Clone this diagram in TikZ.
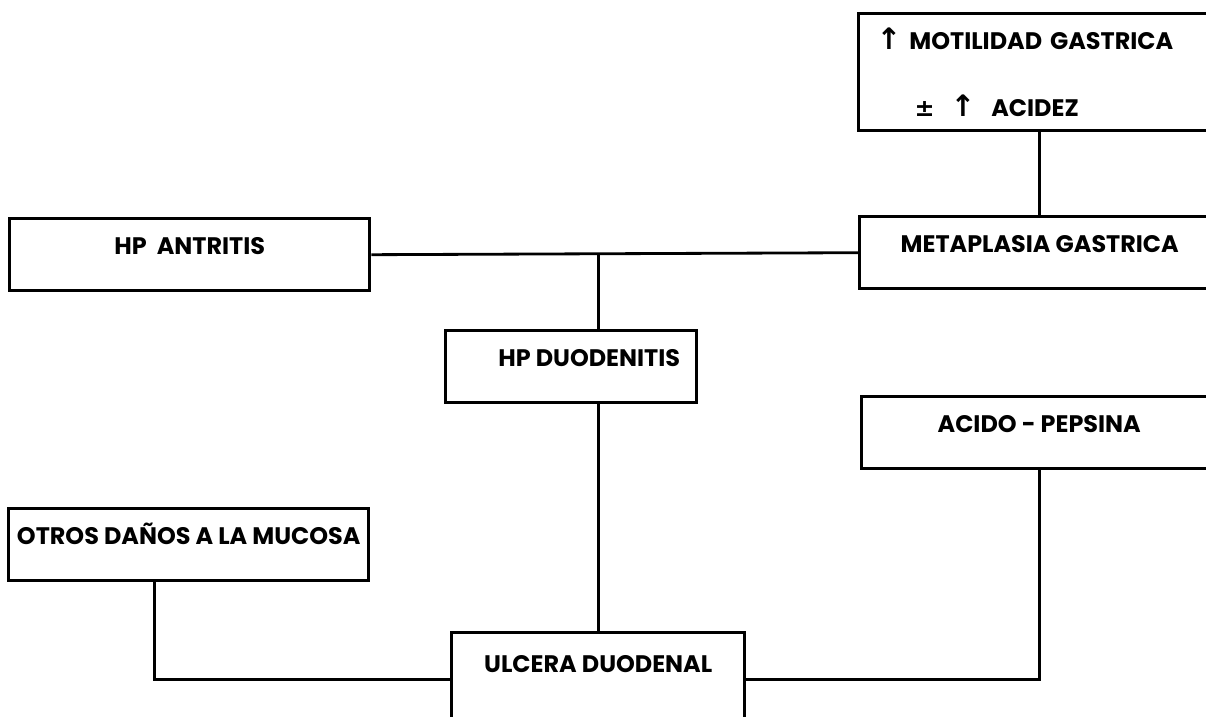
\documentclass[tikz,border=0pt]{standalone}
\usepackage{fontspec}
\setmainfont{Poppins}
\newfontfamily\symb{DejaVu Sans}
\usetikzlibrary{positioning}

\begin{document}
\begin{tikzpicture}[
  x=0.025cm, y=-0.025cm,
  font=\bfseries\fontsize{17}{20}\selectfont,
  box/.style={draw, line width=2.4pt, inner sep=0pt, anchor=north west,
    text height=0.9cm, text depth=0.9cm},
  link/.style={draw, line width=2pt}
]
  \useasboundingbox (0,0) rectangle (1206,717);
  \clip (0,0) rectangle (1206,717);

  % upper row
  \node[box, minimum width=9.0cm] (antritis) at (8,217) {HP\ \ ANTRITIS};
  \node[box, minimum width=9.0cm] (metaplasia) at (858,215) {METAPLASIA GASTRICA};
  \node[draw, line width=2.4pt, anchor=north west, inner xsep=0.45cm, inner ysep=0pt,
    text width=9cm, align=left, minimum height=2.925cm] (motilidad) at (857,12)
    {{\symb\fontsize{21}{20}\selectfont\char"2191}\ MOTILIDAD GASTRICA\\[0.95cm]
     \hspace*{0.95cm}{\symb\char"00B1\ \ \fontsize{21}{20}\selectfont\char"2191}\ \ ACIDEZ};

  % middle
  \node[box, minimum width=6.275cm] (duodenitis) at (444,329) {\hspace*{0.9cm}HP DUODENITIS};
  \node[box, minimum width=8.875cm] (acido) at (860,395) {ACIDO - PEPSINA};
  \node[box, minimum width=9.0cm] (otros) at (7,507) {OTROS DAÑOS A LA MUCOSA};

  % bottom
  \node[box, minimum width=7.325cm, text height=1.0cm, text depth=1.35cm] (ulcera) at (450,631)
    {ULCERA DUODENAL};

  \draw[link] (antritis.east) -- (metaplasia.west);
  \draw[link] (metaplasia.north) -- (metaplasia.north |- motilidad.south);
  \draw[link] (ulcera.north |- antritis.east) -- (ulcera.north |- duodenitis.north);
  \draw[link] (ulcera.north |- duodenitis.south) -- (ulcera.north);
  \draw[link] (acido.south) |- (ulcera.east);
  \draw[link] (ulcera.west) -| ([xshift=-0.85cm]otros.south);
\end{tikzpicture}
\end{document}
